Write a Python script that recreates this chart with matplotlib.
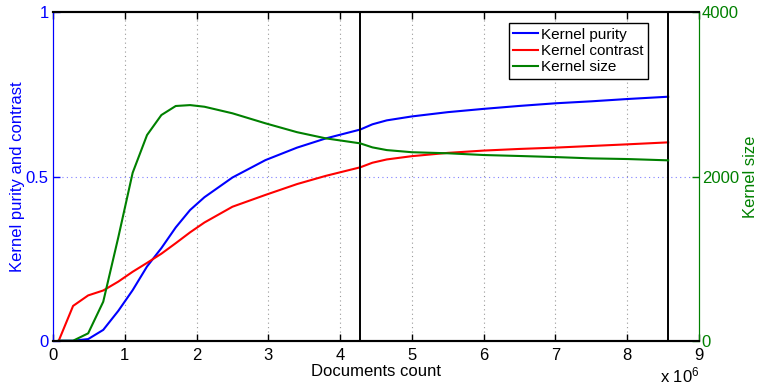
import numpy as np
import matplotlib
matplotlib.use("Agg")
import matplotlib.pyplot as plt

plt.rcParams["font.family"] = ["Liberation Sans", "DejaVu Sans"]
plt.rcParams["mathtext.default"] = "regular"

# documents count (x 10^6)
docs = [0.08, 0.28, 0.49, 0.70, 0.91, 1.11, 1.31, 1.51, 1.71, 1.91, 2.11,
        2.5, 2.96, 3.4, 3.8, 4.28, 4.45, 4.65, 5.0, 5.5, 6.0, 6.5, 7.0,
        7.5, 8.0, 8.57]
purity = [0, 0, 0.005, 0.033, 0.091, 0.154, 0.226, 0.282, 0.345, 0.398,
          0.437, 0.497, 0.55, 0.588, 0.616, 0.643, 0.659, 0.671, 0.683,
          0.696, 0.706, 0.715, 0.723, 0.729, 0.736, 0.743]
contrast = [0, 0.106, 0.138, 0.153, 0.18, 0.21, 0.237, 0.265, 0.297,
            0.33, 0.36, 0.408, 0.444, 0.477, 0.502, 0.528, 0.542, 0.552,
            0.562, 0.572, 0.579, 0.584, 0.588, 0.593, 0.598, 0.604]
ksize = [0, 0, 90, 475, 1260, 2046, 2505, 2749, 2859, 2870, 2850, 2770,
         2648, 2540, 2465, 2404, 2355, 2322, 2296, 2283, 2262, 2250, 2237,
         2221, 2213, 2197]
splits = [4.28, 8.57]

BLUE, RED, GREEN = "#0000ff", "#ff0000", "#008000"

fig = plt.figure(figsize=(7.57, 3.85), dpi=100)
ax = fig.add_axes([0.0700, 0.115, 0.8534, 0.853])
ax2 = ax.twinx()

l1, = ax.plot(docs, purity, color=BLUE, lw=1.5, label="Kernel purity")
l2, = ax.plot(docs, contrast, color=RED, lw=1.5, label="Kernel contrast")
l3, = ax2.plot(docs, ksize, color=GREEN, lw=1.5, label="Kernel size")
for s in splits:
    ax.axvline(s, color="black", lw=1.4, zorder=5)

ax.set_xlim(0, 9)
ax.set_ylim(0, 1)
ax2.set_ylim(0, 4000)
ax.set_xticks(range(10))
ax.set_yticks([0, 0.5, 1])
ax.set_yticklabels(["0", "0.5", "1"])
ax2.set_yticks([0, 2000, 4000])

# grid: grey dotted verticals, light blue dotted horizontal
for xv in range(1, 9):
    ax.axvline(xv, color="#999999", lw=0.8, ls=(0, (1, 3)), zorder=0)
ax.axhline(0.5, color="#8080ff", lw=0.8, ls=(0, (1, 3)), zorder=0)

ax.tick_params(axis="x", direction="in", top=True, length=5, width=1,
               labelsize=12, pad=5, colors="black")
ax.tick_params(axis="y", direction="in", length=5, width=1, labelsize=12,
               colors=BLUE, pad=3)
ax2.tick_params(axis="y", direction="in", length=5, width=1, labelsize=12,
                colors=GREEN, pad=2)

for a in (ax, ax2):
    a.spines["top"].set_color("black")
    a.spines["top"].set_linewidth(1.5)
    a.spines["bottom"].set_color("black")
    a.spines["bottom"].set_linewidth(1.5)
    a.spines["left"].set_color(BLUE)
    a.spines["right"].set_color(GREEN)

ax.set_xlabel("Documents count", fontsize=12, labelpad=1)
ax.set_ylabel("Kernel purity and contrast", fontsize=12, color=BLUE, labelpad=0.5)
ax2.set_ylabel("Kernel size", fontsize=12, color=GREEN, labelpad=3)
ax.text(0.94, -0.107, r"x 10$^{6}$", transform=ax.transAxes, fontsize=12,
        va="center", ha="left")

leg = ax2.legend(handles=[l1, l2, l3], loc="upper right",
                 bbox_to_anchor=(0.921, 0.967), borderaxespad=0, fontsize=11,
                 fancybox=False, framealpha=1, edgecolor="black",
                 handlelength=1.6, handletextpad=0.2, labelspacing=0.15,
                 borderpad=0.3)
leg.get_frame().set_linewidth(1.0)

fig.savefig("out.png", dpi=100)
